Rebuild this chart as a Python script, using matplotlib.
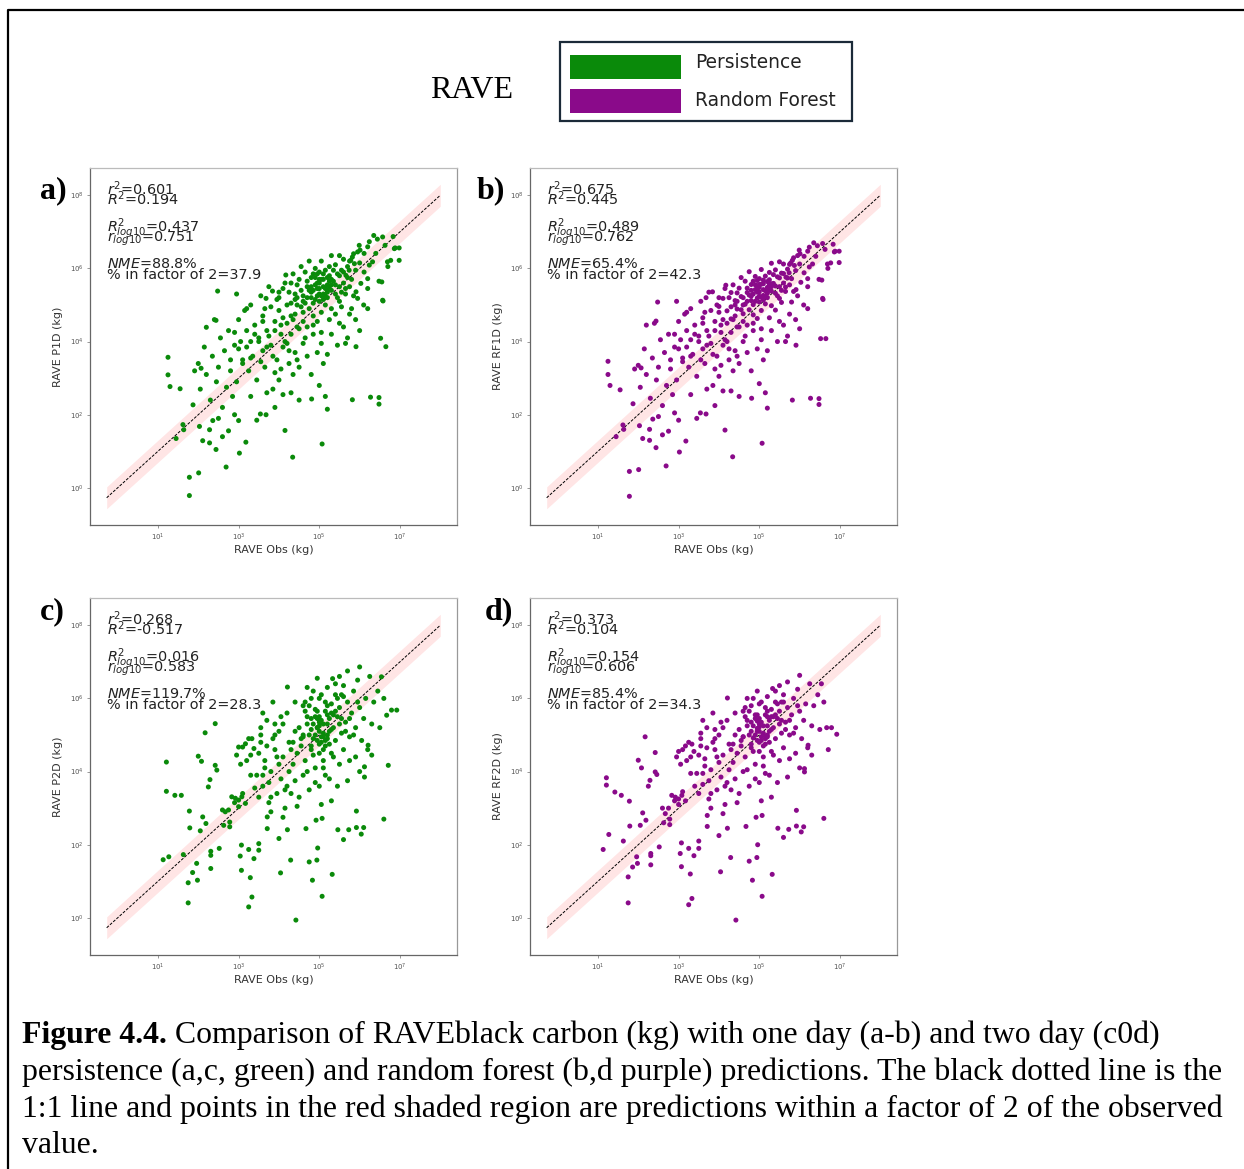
import matplotlib.pyplot as plt
import numpy as np
from matplotlib.patches import Rectangle
from matplotlib.lines import Line2D

# values, in log10(kg)
# one day: streak / cluster / mid / low band / outliers / right / core / core 2 / mid 2
obs_1d = [6.44, 6.24, 6.20, 5.99, 6.01, 6.11, 5.95, 5.82, 5.78, 5.87,
          6.57, 6.63, 6.40, 6.86, 6.88, 6.77, 6.98, 6.69, 6.48, 6.55,
          6.98, 6.83, 6.32, 6.24, 6.11, 6.20, 6.03, 6.20, 5.91, 5.95,
          6.57, 5.74, 5.66, 6.35, 6.70,
          4.30, 4.40, 4.45, 4.50, 4.55, 4.60, 4.60, 4.65, 4.70, 4.70,
          4.75, 4.80, 4.80, 4.85, 4.85, 4.90, 4.90, 4.95, 5.00, 5.00,
          5.00, 5.05, 5.10, 5.10, 5.15, 5.15, 5.20, 5.20, 5.25, 5.25,
          5.30, 5.30, 5.35, 5.40, 5.40, 5.45, 5.50, 5.50, 5.55, 5.60,
          5.60, 5.65, 5.70, 5.75, 4.20, 4.30, 4.35, 4.10, 4.00, 4.95,
          5.40, 5.55, 5.85, 5.80, 4.55, 5.05, 4.75, 5.30, 5.50, 4.45,
          3.00, 3.05, 3.10, 3.15, 3.20, 3.25, 3.30, 3.30, 3.35, 3.40,
          3.45, 3.50, 3.55, 3.60, 3.60, 3.65, 3.70, 3.75, 3.80, 3.85,
          3.90, 3.95, 4.00, 4.00, 4.05, 4.10, 4.15, 4.20, 4.25, 4.30,
          4.35, 4.40, 4.45, 4.50, 4.50, 4.60, 4.70, 4.80, 4.85, 4.95,
          5.00, 5.05, 5.10, 5.20, 5.30, 5.45, 5.50, 5.15, 3.20, 2.95,
          2.00, 2.05, 2.15, 2.20, 2.30, 2.35, 2.40, 2.45, 2.50, 2.55,
          2.60, 2.65, 2.70, 2.75, 2.80, 2.85, 2.90, 2.90, 2.95, 2.50,
          1.25, 1.25, 1.30, 1.55, 1.45, 1.62, 1.64, 1.78, 1.78, 2.01,
          1.91, 2.07, 1.87, 2.03, 2.28, 2.11, 2.28, 2.36, 2.44, 2.69,
          2.75, 3.02, 3.18, 4.15, 4.34, 5.07, 3.54, 3.68, 3.00, 2.20,
          2.44, 2.48, 3.68, 3.84, 4.17, 4.81, 5.20, 5.82, 6.27, 6.48,
          6.48, 6.52, 6.65, 6.58, 5.91, 3.30, 3.90, 4.30, 3.45, 2.60,
          5.60, 5.70, 5.90, 6.00, 6.10, 5.75, 6.20, 5.65,
          4.85, 4.95, 5.05, 5.15, 5.25, 4.90, 5.00, 5.10, 5.20, 5.30,
          4.80, 5.00, 5.20, 5.10, 4.95,
          4.60, 4.70, 4.80, 4.90, 5.00, 5.10, 5.20, 5.30, 5.40, 5.50,
          4.65, 4.75, 4.85, 4.95, 5.05, 5.15, 5.25, 5.35, 5.45, 5.55,
          5.60, 5.70, 5.80, 5.90, 6.00, 5.65, 5.75, 5.85, 4.55, 4.40,
          3.50, 3.60, 3.70, 3.80, 3.90, 4.00, 4.10, 4.20, 4.30, 4.40,
          3.55, 3.65, 3.75, 3.85, 3.95, 4.05, 4.15, 4.25, 4.35, 4.45,
          2.80, 2.90, 3.00, 3.10, 3.20, 3.30, 3.40, 4.50, 4.60, 4.70,
          4.05, 4.25, 4.45, 4.65, 4.85, 5.05, 5.25, 3.70, 3.90, 4.10]

p1d = [6.80, 6.73, 6.59, 6.63, 6.50, 6.41, 6.45, 6.31, 6.22, 6.13,
       6.86, 6.63, 6.41, 6.54, 6.56, 6.22, 6.22, 6.18, 5.65, 5.63,
       6.56, 6.87, 6.18, 6.09, 5.90, 5.72, 5.59, 5.45, 5.36, 5.18,
       5.13, 5.95, 5.81, 6.90, 6.05,
       5.60, 5.30, 5.00, 5.70, 5.40, 5.10, 4.80, 5.90, 5.50, 5.20,
       4.90, 5.75, 5.35, 5.05, 4.70, 6.00, 5.55, 5.25, 5.90, 5.45,
       5.10, 4.80, 5.70, 5.30, 5.95, 5.00, 5.55, 5.20, 6.05, 5.80,
       5.40, 4.90, 5.65, 6.10, 5.30, 5.85, 5.50, 5.10, 5.95, 5.60,
       6.25, 5.30, 5.75, 5.50, 5.00, 4.70, 5.85, 5.45, 5.20, 4.55,
       4.75, 4.95, 5.25, 4.90, 6.05, 6.20, 6.20, 6.35, 6.35, 5.55,
       4.60, 4.00, 3.50, 4.85, 4.30, 3.20, 4.00, 5.00, 3.60, 4.45,
       2.95, 4.10, 5.25, 3.75, 4.70, 3.30, 4.30, 5.50, 3.90, 2.70,
       4.55, 3.50, 4.85, 2.95, 4.20, 3.85, 5.60, 4.50, 3.40, 4.20,
       3.10, 3.70, 4.40, 3.30, 2.40, 3.95, 3.60, 3.10, 4.20, 3.70,
       2.80, 3.95, 3.40, 3.65, 4.20, 3.90, 4.50, 2.50, 3.85, 5.30,
       3.40, 2.70, 3.85, 3.10, 2.40, 3.60, 4.60, 2.90, 3.30, 4.10,
       2.20, 3.75, 2.75, 4.30, 3.20, 2.50, 3.90, 2.00, 2.90, 1.90,
       3.57, 3.09, 2.77, 2.71, 1.35, 1.73, 1.59, 0.29, -0.21, 0.41,
       3.20, 3.27, 2.27, 1.68, 1.59, 1.29, 1.23, 1.84, 1.05, 0.57,
       1.56, 0.95, 1.25, 1.57, 0.84, 1.20, 2.02, 2.00, 1.84, 4.39,
       4.58, 5.38, 5.18, 5.38, 5.82, 2.43, 2.15, 2.41, 2.48, 2.47,
       2.29, 4.09, 3.86, 5.11, 3.86, 2.50, 2.20, 2.60, 1.85, 1.40,
       4.40, 4.10, 4.60, 4.30, 5.00, 4.75, 4.90, 3.95,
       5.40, 5.60, 5.25, 5.45, 5.65, 5.15, 5.70, 5.50, 5.35, 5.55,
       5.20, 5.30, 5.75, 5.15, 5.85,
       5.25, 5.65, 5.50, 5.75, 5.60, 5.85, 5.40, 5.70, 5.55, 5.80,
       5.05, 5.40, 5.85, 5.45, 5.70, 5.25, 5.50, 5.95, 5.20, 5.35,
       5.90, 6.05, 5.70, 5.95, 6.15, 5.45, 6.20, 6.40, 4.95, 5.15,
       4.00, 4.55, 3.85, 4.95, 4.30, 5.35, 4.65, 3.95, 5.05, 4.75,
       3.45, 4.90, 4.15, 3.60, 5.15, 4.45, 4.00, 5.35, 4.60, 5.20,
       3.50, 4.25, 3.80, 3.40, 4.90, 3.55, 4.20, 4.35, 4.55, 4.40,
       3.25, 3.75, 3.50, 4.10, 4.45, 4.25, 4.60, 2.60, 3.15, 2.55]

rf1d = [6.62, 6.58, 6.47, 6.50, 6.40, 6.33, 6.35, 6.22, 6.15, 6.08,
        6.68, 6.52, 6.33, 6.45, 6.47, 6.15, 6.16, 6.12, 5.70, 5.68,
        6.47, 6.66, 6.12, 6.04, 5.88, 5.72, 5.62, 5.50, 5.42, 5.25,
        5.18, 5.88, 5.76, 6.70, 6.00,
        5.34, 5.12, 4.89, 5.46, 5.23, 5.00, 4.76, 5.65, 5.34, 5.10,
        4.87, 5.56, 5.24, 5.01, 4.73, 5.78, 5.42, 5.19, 5.72, 5.36,
        5.08, 4.85, 5.58, 5.26, 5.79, 5.03, 5.48, 5.20, 5.89, 5.69,
        5.38, 4.98, 5.59, 5.96, 5.32, 5.77, 5.50, 5.18, 5.87, 5.60,
        6.12, 5.37, 5.74, 5.55, 4.84, 4.62, 5.55, 5.18, 4.96, 4.63,
        4.86, 5.07, 5.37, 5.08, 5.75, 5.97, 5.91, 6.14, 6.18, 5.33,
        4.55, 4.05, 3.55, 4.75, 4.30, 3.30, 4.05, 4.90, 3.65, 4.45,
        3.05, 4.15, 5.10, 3.80, 4.65, 3.40, 4.30, 5.35, 3.95, 2.80,
        4.55, 3.60, 4.80, 3.05, 4.25, 3.90, 5.45, 4.50, 3.50, 4.25,
        3.20, 3.75, 4.40, 3.40, 2.50, 4.00, 3.70, 3.20, 4.30, 3.80,
        2.85, 4.05, 3.50, 3.75, 4.30, 4.00, 4.55, 2.60, 3.85, 5.10,
        3.35, 2.75, 3.80, 3.10, 2.45, 3.55, 4.50, 2.95, 3.30, 4.05,
        2.25, 3.70, 2.80, 4.20, 3.25, 2.55, 3.85, 2.05, 2.95, 1.95,
        3.46, 3.10, 2.80, 2.68, 1.40, 1.72, 1.60, 0.45, -0.23, 0.50,
        3.25, 3.28, 2.30, 1.70, 1.60, 1.35, 1.30, 1.88, 1.10, 0.60,
        1.55, 0.98, 1.28, 1.58, 0.85, 1.22, 2.05, 2.02, 1.85, 4.45,
        4.56, 5.08, 5.20, 5.36, 5.54, 2.45, 2.18, 2.40, 2.45, 2.44,
        2.28, 4.08, 4.08, 5.15, 3.90, 2.55, 2.25, 2.65, 1.90, 1.45,
        4.45, 4.15, 4.60, 4.35, 5.00, 4.75, 4.90, 4.00,
        5.30, 5.47, 5.21, 5.39, 5.57, 5.10, 5.56, 5.42, 5.32, 5.50,
        5.12, 5.24, 5.64, 5.14, 5.67,
        5.20, 5.46, 5.40, 5.55, 5.48, 5.68, 5.36, 5.58, 5.52, 5.74,
        5.02, 5.27, 5.65, 5.35, 5.57, 5.23, 5.45, 5.83, 5.25, 5.40,
        5.86, 5.98, 5.72, 5.94, 6.12, 5.49, 6.11, 6.29, 4.87, 5.00,
        4.00, 4.50, 3.90, 4.85, 4.30, 5.20, 4.60, 4.00, 4.95, 4.70,
        3.50, 4.80, 4.15, 3.65, 5.00, 4.45, 4.05, 5.20, 4.60, 5.10,
        3.50, 4.20, 3.80, 3.45, 4.80, 3.60, 4.20, 4.40, 4.55, 4.45,
        3.35, 3.80, 3.60, 4.15, 4.50, 4.35, 4.65, 2.70, 3.25, 2.65]

# two day: outliers / near 1:1 / upper group / mid / cluster / right / core / core 2 / mid 2
obs_2d = [1.21, 1.21, 1.42, 1.58, 1.13, 1.27, 1.63, 1.78, 1.79, 1.75,
          1.86, 1.75, 1.96, 1.98, 2.05, 2.11, 2.19, 2.00, 2.08, 2.17,
          2.42, 2.29, 2.25, 2.42, 2.46, 2.31, 2.31, 2.31, 2.52, 2.63,
          2.67, 2.78, 2.78, 3.07, 3.04, 3.07, 3.29, 3.33, 3.25, 3.25,
          3.38, 3.50, 3.50, 3.71, 3.71, 4.00, 4.04, 4.21, 4.29, 4.42,
          4.75, 4.83, 4.94, 4.96, 5.07, 5.32, 4.67, 4.92, 5.07, 5.46,
          5.73, 5.92, 5.92, 6.04, 6.10, 5.60, 6.60,
          2.83, 2.92, 3.00, 3.08, 3.17, 3.00, 2.90, 3.10, 2.75, 2.60,
          3.00, 3.10, 3.17, 3.25, 3.33, 3.38, 2.95, 3.05, 3.20, 3.30,
          3.45, 3.50, 3.55, 3.60, 3.65, 3.70, 3.75, 3.80, 3.85, 3.90,
          3.95, 4.00, 4.05, 4.10, 4.15, 4.20, 4.25, 4.30, 4.35, 4.40,
          3.60, 3.90, 4.40, 4.45, 3.40, 4.21, 3.55, 3.80, 4.10, 3.30,
          4.50, 4.55, 4.60, 4.65, 4.70, 4.75, 4.80, 4.80, 4.85, 4.90,
          4.90, 4.95, 5.00, 5.00, 5.00, 5.05, 5.05, 5.10, 5.10, 5.15,
          5.15, 5.20, 5.20, 5.25, 5.30, 5.30, 5.35, 5.40, 5.40, 5.45,
          5.50, 5.50, 5.55, 5.60, 5.60, 5.65, 5.70, 5.75, 5.80, 5.85,
          5.90, 5.90, 5.95, 6.00, 6.05, 6.10, 6.15, 6.20, 4.60, 5.25,
          5.45, 5.70, 6.00, 5.00, 4.70, 4.95, 5.33, 5.50, 5.70, 6.00,
          6.67, 6.79, 6.92, 6.71, 6.21, 6.12, 6.12, 6.30, 6.54, 6.45,
          6.25, 6.35, 6.50, 6.60, 6.30,
          4.85, 4.95, 5.05, 5.15, 5.25, 4.90, 5.00, 5.10, 5.20, 5.30,
          4.80, 5.00, 5.20, 5.10, 4.95,
          4.60, 4.70, 4.80, 4.90, 5.00, 5.10, 5.20, 5.30, 5.40, 5.50,
          4.75, 4.85, 4.95, 5.05, 5.15, 5.25, 5.35, 5.45, 5.55, 5.65,
          5.75, 5.85, 5.95, 4.65, 5.60,
          3.50, 3.60, 3.70, 3.80, 3.90, 4.00, 4.10, 4.20, 4.30, 4.40,
          3.55, 3.65, 3.75, 3.85, 3.95, 4.05, 4.15, 4.25, 4.35, 4.45,
          4.50, 4.60, 4.70, 4.80, 4.90, 5.00, 5.10, 5.20, 5.30, 5.40,
          4.55, 4.75, 4.95, 5.15, 5.35, 5.55, 5.75, 4.65, 4.85, 5.05]

p2d = [4.26, 3.46, 3.35, 3.35, 1.59, 1.67, 1.73, 2.92, 2.46, 0.96,
       1.24, 0.41, 1.49, 1.03, 2.38, 2.76, 2.58, 4.42, 4.28, 5.06,
       5.31, 3.78, 3.58, 4.17, 4.04, 1.82, 1.71, 1.35, 1.90, 2.53,
       2.90, 2.62, 2.49, 1.99, 1.69, 1.30, 1.10, 0.57, 0.30, 1.87,
       1.62, 2.03, 1.85, 2.76, 2.44, 2.17, 1.23, 2.41, 1.58, -0.06,
       1.53, 1.03, 1.58, 1.91, 0.59, 1.19, 2.44, 2.67, 2.72, 2.41,
       2.41, 2.92, 2.47, 2.29, 2.47, 2.14, 2.70,
       3.31, 3.27, 3.22, 3.31, 3.13, 3.04, 3.15, 3.40, 2.95, 2.95,
       4.67, 4.67, 4.76, 4.90, 4.90, 4.63, 4.45, 4.20, 4.30, 4.45,
       3.90, 3.30, 4.80, 3.60, 4.30, 5.40, 3.15, 4.00, 5.90, 4.60,
       3.40, 5.10, 3.80, 4.40, 3.00, 5.60, 4.00, 3.40, 4.80, 5.90,
       5.60, 5.30, 3.75, 3.05, 3.55, 6.31, 5.00, 2.90, 2.75, 3.90,
       5.20, 4.70, 5.80, 4.30, 5.50, 5.00, 6.00, 4.60, 5.30, 4.10,
       5.70, 4.85, 5.10, 5.50, 4.50, 6.10, 4.95, 5.30, 4.30, 5.65,
       4.70, 5.00, 6.30, 5.45, 4.50, 5.85, 5.20, 4.85, 6.10, 5.50,
       4.20, 5.75, 5.05, 6.35, 4.60, 5.35, 5.90, 4.95, 5.60, 6.20,
       4.40, 5.20, 6.50, 5.75, 4.85, 5.45, 6.00, 4.60, 3.90, 3.80,
       3.60, 3.75, 4.00, 3.60, 6.30, 6.55, 6.54, 6.60, 6.75, 6.86,
       5.54, 5.68, 5.68, 4.17, 4.72, 4.13, 3.85, 5.30, 6.59, 6.20,
       6.60, 5.90, 5.20, 6.00, 4.45,
       4.90, 5.20, 5.40, 4.85, 5.10, 5.00, 4.75, 5.05, 5.30, 5.60,
       5.15, 5.25, 4.90, 4.60, 5.45,
       4.95, 5.30, 4.70, 5.50, 5.35, 4.95, 5.55, 5.15, 5.65, 5.30,
       5.80, 4.45, 5.65, 4.80, 5.90, 4.75, 5.55, 6.00, 5.45, 5.10,
       5.45, 5.00, 5.90, 5.65, 6.05,
       4.50, 3.90, 4.70, 3.30, 5.00, 4.20, 5.30, 3.60, 4.60, 5.10,
       5.20, 4.10, 3.70, 4.90, 4.40, 5.50, 3.50, 4.80, 4.20, 4.50,
       3.30, 5.00, 4.00, 5.45, 3.70, 6.00, 4.10, 5.80, 3.20, 6.40,
       4.90, 3.50, 5.20, 3.90, 4.40, 6.10, 4.30, 5.90, 6.20, 3.10]

rf2d = [3.83, 3.63, 3.44, 3.35, 1.87, 2.28, 2.10, 3.19, 2.51, 1.12,
        1.39, 0.41, 1.67, 1.49, 2.53, 2.87, 2.67, 4.31, 4.10, 4.95,
        4.52, 3.76, 3.60, 3.99, 3.92, 1.76, 1.70, 1.45, 1.94, 2.60,
        2.85, 2.70, 2.55, 2.05, 1.76, 1.40, 1.20, 0.53, 0.36, 1.90,
        1.70, 2.10, 1.90, 2.80, 2.50, 2.25, 1.26, 2.45, 1.65, -0.06,
        1.55, 1.03, 1.65, 2.00, 0.59, 1.19, 2.50, 2.75, 2.80, 2.45,
        2.42, 2.94, 2.51, 2.35, 2.49, 2.20, 2.72,
        3.35, 3.30, 3.25, 3.35, 3.20, 3.10, 3.20, 3.45, 3.00, 3.00,
        4.55, 4.60, 4.70, 4.80, 4.75, 4.55, 4.40, 4.20, 4.30, 4.40,
        3.95, 3.40, 4.70, 3.65, 4.35, 5.20, 3.25, 4.05, 5.60, 4.60,
        3.50, 5.00, 3.85, 4.45, 3.10, 5.40, 4.05, 3.50, 4.75, 5.60,
        5.40, 5.15, 3.80, 3.15, 3.60, 6.01, 4.90, 3.00, 2.85, 3.95,
        5.15, 4.70, 5.65, 4.40, 5.40, 5.00, 5.80, 4.65, 5.25, 4.20,
        5.55, 4.85, 5.10, 5.45, 4.55, 5.90, 4.95, 5.25, 4.40, 5.55,
        4.75, 5.00, 6.05, 5.40, 4.55, 5.70, 5.20, 4.90, 5.90, 5.45,
        4.30, 5.65, 5.05, 6.10, 4.65, 5.35, 5.75, 5.00, 5.55, 6.00,
        4.50, 5.20, 6.25, 5.65, 4.90, 5.40, 5.85, 4.65, 4.00, 3.90,
        3.70, 3.85, 4.10, 3.70, 6.00, 6.20, 6.27, 6.35, 6.45, 6.63,
        5.20, 5.20, 5.02, 4.60, 4.72, 4.08, 3.99, 5.25, 6.40, 6.10,
        6.40, 5.80, 5.15, 5.90, 4.45,
        4.92, 5.18, 5.35, 4.90, 5.10, 5.00, 4.80, 5.05, 5.25, 5.50,
        5.10, 5.22, 4.95, 4.70, 5.38,
        4.95, 5.25, 4.75, 5.45, 5.30, 5.00, 5.50, 5.15, 5.55, 5.30,
        5.65, 4.55, 5.55, 4.85, 5.75, 4.80, 5.50, 5.85, 5.40, 5.15,
        5.40, 5.05, 5.80, 5.50, 5.90,
        4.45, 3.95, 4.65, 3.40, 4.90, 4.25, 5.20, 3.70, 4.60, 5.00,
        5.05, 4.15, 3.75, 4.80, 4.40, 5.35, 3.60, 4.75, 4.25, 4.50,
        3.40, 4.95, 4.05, 5.35, 3.80, 5.85, 4.15, 5.65, 3.30, 6.20,
        4.85, 3.60, 5.10, 3.95, 4.45, 5.90, 4.35, 5.75, 6.00, 3.20]

# r2, R2, R2_log10, r_log10, NME, % in factor of 2
stats_p1d = ["0.601", "0.194", "0.437", "0.751", "88.8", "37.9"]
stats_rf1d = ["0.675", "0.445", "0.489", "0.762", "65.4", "42.3"]
stats_p2d = ["0.268", "-0.517", "0.016", "0.583", "119.7", "28.3"]
stats_rf2d = ["0.373", "0.104", "0.154", "0.606", "85.4", "34.3"]

panel_labels = ["a)", "b)", "c)", "d)"]
y_labels = ["RAVE P1D (kg)", "RAVE RF1D (kg)", "RAVE P2D (kg)", "RAVE RF2D (kg)"]
legend_labels = ["Persistence", "Random Forest"]

caption = [
    "Figure 4.4.",
    " Comparison of RAVEblack carbon (kg) with one day (a-b) and two day (c0d)",
    "persistence (a,c, green) and random forest (b,d purple) predictions. The black dotted line is the",
    "1:1 line and points in the red shaded region are predictions within a factor of 2 of the observed",
    "value.",
]

W, H = 1244, 1169
fig = plt.figure(figsize=(W / 100, H / 100), dpi=100)


def fx(px):
    return px / W


def fy(py):
    return 1 - py / H


green = "#0a8a0a"
purple = "#8a0a8a"

panels = [
    (obs_1d, p1d, green, stats_p1d, 90, 525, 40, 198),
    (obs_1d, rf1d, purple, stats_rf1d, 530, 525, 477, 198),
    (obs_2d, p2d, green, stats_p2d, 90, 955, 40, 619),
    (obs_2d, rf2d, purple, stats_rf2d, 530, 955, 485, 619),
]

xx = np.logspace(-0.27, 8, 200)

for i, (obs, pred, col, st, left, bottom, lx, ly) in enumerate(panels):
    ax = fig.add_axes([fx(left), fy(bottom), 367 / W, 357 / H])
    ax.set_xscale("log")
    ax.set_yscale("log")
    ax.fill_between(xx, xx / 2, xx * 2, color="red", alpha=0.1, lw=0)
    ax.plot(xx, xx, color="black", ls="--", lw=0.7, dashes=(3, 1.5))
    ax.scatter(10 ** np.array(obs), 10 ** np.array(pred), s=13, color=col,
               edgecolors="none", zorder=3)

    ax.set_xticks([1e1, 1e3, 1e5, 1e7])
    ax.set_yticks([1e0, 1e2, 1e4, 1e6, 1e8])
    ax.minorticks_off()
    ax.tick_params(labelsize=5, length=2.5, width=0.6, color="#888888",
                   labelcolor="#555555", pad=2)
    ax.set_xlabel("RAVE Obs (kg)", fontsize=8, color="#333333", labelpad=2)
    ax.set_ylabel(y_labels[i], fontsize=8, color="#333333", labelpad=5)
    for side, c in [("left", "#666666"), ("bottom", "#666666"),
                    ("top", "#bbbbbb"), ("right", "#999999")]:
        ax.spines[side].set_color(c)
        ax.spines[side].set_linewidth(0.9)

    lines = [
        f"$r^2$={st[0]}",
        f"$R^2$={st[1]}",
        f"$R^2_{{log10}}$={st[2]}",
        f"$r_{{log10}}$={st[3]}",
        f"$NME$={st[4]}%",
        f"% in factor of 2={st[5]}",
    ]
    for txt, yy in zip(lines, [0.925, 0.895, 0.822, 0.793, 0.720, 0.690]):
        ax.text(0.0455, yy, txt, transform=ax.transAxes, fontsize=10.4,
                color="#222222", va="baseline", ha="left")

    fig.text(fx(lx), fy(ly), panel_labels[i], fontsize=23, weight="bold",
             family="Liberation Serif", va="baseline", ha="left")

# title and legend block
fig.text(fx(472), fy(98), "RAVE", fontsize=23, family="Liberation Serif",
         ha="center", va="baseline")
fig.patches.append(Rectangle((fx(560), fy(121)), fx(852) - fx(560), fy(42) - fy(121),
                             transform=fig.transFigure, facecolor="white",
                             edgecolor="#1b2a38", lw=1.6))
for col, top, base, lab in [(green, 55, 68.3, legend_labels[0]),
                            (purple, 88.5, 106, legend_labels[1])]:
    fig.patches.append(Rectangle((fx(570), fy(top + 24)), fx(681) - fx(570), 24 / H,
                                 transform=fig.transFigure, facecolor=col,
                                 edgecolor="none"))
    fig.text(fx(695), fy(base), lab, fontsize=13.4, color="#222222",
             va="baseline", ha="left")

# frame round the figure
fig.lines.append(Line2D([fx(8), fx(8), 1.0], [0.0, fy(10), fy(10)],
                        transform=fig.transFigure, color="black", lw=1.6))

# caption
cap_fs = 22.9
renderer = fig.canvas.get_renderer()
t = fig.text(fx(22), fy(1043), caption[0], fontsize=cap_fs, weight="bold",
             family="Liberation Serif", va="baseline", ha="left")
bb = t.get_window_extent(renderer)
fig.text(bb.x1 / W, fy(1043), caption[1], fontsize=cap_fs,
         family="Liberation Serif", va="baseline", ha="left")
for line, base in zip(caption[2:], [1080, 1116.7, 1153]):
    fig.text(fx(22), fy(base), line, fontsize=cap_fs,
             family="Liberation Serif", va="baseline", ha="left")

fig.savefig("out.png", dpi=100)
